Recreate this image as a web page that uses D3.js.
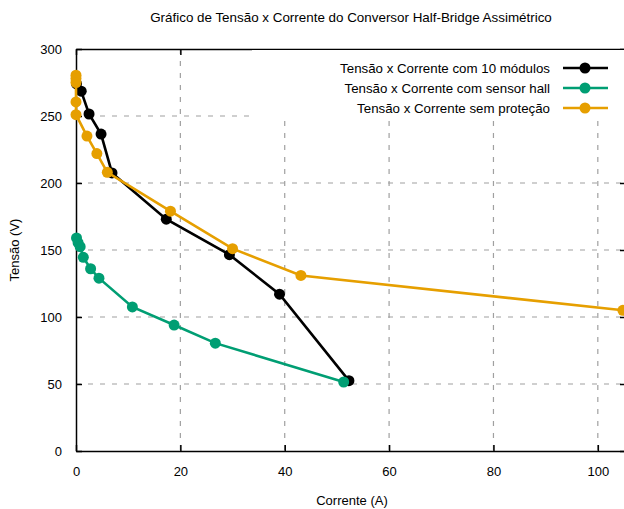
<!DOCTYPE html>
<html>
<head>
<meta charset="utf-8">
<script src="https://cdn.jsdelivr.net/npm/d3@7"></script>
<style>
  body { margin: 0; background: #fff; }
  text { font-family: "Liberation Sans", Arial, sans-serif; fill: #000; }
</style>
</head>
<body>
<div id="chart"></div>
<script>
// data
const modulosX = [0.1, 1.0, 2.5, 4.8, 6.9, 17.3, 29.4, 39.0, 52.3];
const modulosY = [274, 268.5, 251.5, 236.5, 207.5, 173, 146.5, 117, 52.5];
const hallX = [0.1, 0.4, 0.8, 1.4, 2.8, 4.4, 10.8, 18.8, 26.7, 51.3];
const hallY = [159, 155.5, 152.5, 144.5, 136, 129, 107.5, 94, 80.5, 51.5];
const semX = [0.0, 0.0, 0.0, 0.0, 0.0, 2.1, 4.0, 6.0, 18.1, 30.0, 43.1, 104.8];
const semY = [280.5, 278, 275, 260.5, 251, 235, 222, 208, 179, 151, 131, 105];

const xTicks = [0, 20, 40, 60, 80, 100];
const yTicks = [0, 50, 100, 150, 200, 250, 300];

const series = [
  { name: 'Tensão x Corrente com 10 módulos', color: '#000000', xs: modulosX, ys: modulosY },
  { name: 'Tensão x Corrente com sensor hall', color: '#009e73', xs: hallX, ys: hallY },
  { name: 'Tensão x Corrente sem proteção', color: '#e69f00', xs: semX, ys: semY }
];

const width = 624, height = 509;
const margin = { top: 49, right: -2, bottom: 58, left: 76 };
const plotW = width - margin.left - margin.right;
const plotH = height - margin.top - margin.bottom;

const svg = d3.select('#chart').append('svg')
  .attr('width', width)
  .attr('height', height);

const g = svg.append('g')
  .attr('transform', `translate(${margin.left},${margin.top})`);

const x = d3.scaleLinear().domain([0, 105.4]).range([0, plotW]);
const y = d3.scaleLinear().domain([0, 300]).range([plotH, 0]);

// grid
g.append('g').selectAll('line')
  .data(xTicks.filter(d => d > 0))
  .enter().append('line')
  .attr('x1', d => x(d)).attr('x2', d => x(d))
  .attr('y1', 0).attr('y2', plotH)
  .attr('stroke', '#a0a0a0').attr('stroke-width', 1.2)
  .attr('stroke-dasharray', '5,7');

g.append('g').selectAll('line')
  .data(yTicks.filter(d => d > 0 && d < 300))
  .enter().append('line')
  .attr('x1', 0).attr('x2', plotW)
  .attr('y1', d => y(d)).attr('y2', d => y(d))
  .attr('stroke', '#a0a0a0').attr('stroke-width', 1.2)
  .attr('stroke-dasharray', '5,7');

// opaque legend box hides the grid behind it
svg.append('rect')
  .attr('x', 252).attr('y', 50)
  .attr('width', 380).attr('height', 71)
  .attr('fill', '#fff');

// axes (ticks inward, mirrored on top/right)
const xAxis = g.append('g')
  .attr('transform', `translate(0,${plotH})`)
  .call(d3.axisBottom(x).tickValues(xTicks).tickSizeInner(-6).tickSizeOuter(0).tickPadding(16));
const xTop = g.append('g')
  .call(d3.axisTop(x).tickValues(xTicks).tickSizeInner(-6).tickSizeOuter(0).tickFormat(''));
const yAxis = g.append('g')
  .call(d3.axisLeft(y).tickValues(yTicks).tickSizeInner(-6).tickSizeOuter(0).tickPadding(14));
const yRight = g.append('g')
  .attr('transform', `translate(${plotW},0)`)
  .call(d3.axisRight(y).tickValues(yTicks).tickSizeInner(-6).tickSizeOuter(0).tickFormat(''));

[xAxis, xTop, yAxis, yRight].forEach(a => {
  a.select('.domain').attr('stroke', '#000').attr('stroke-width', 1.5);
  a.selectAll('.tick line').attr('stroke', '#000').attr('stroke-width', 1.5);
  a.selectAll('text').style('font-size', '13px').attr('fill', '#000');
});

// series lines and points
const line = d3.line().x(d => x(d[0])).y(d => y(d[1]));

series.forEach(s => {
  const pts = s.xs.map((v, i) => [v, s.ys[i]]);
  g.append('path')
    .datum(pts)
    .attr('d', line)
    .attr('fill', 'none')
    .attr('stroke', s.color)
    .attr('stroke-width', 2.6);
  g.append('g').selectAll('circle')
    .data(pts)
    .enter().append('circle')
    .attr('cx', d => x(d[0]))
    .attr('cy', d => y(d[1]))
    .attr('r', 5.5)
    .attr('fill', s.color);
});

// legend
const legend = svg.append('g');
series.forEach((s, i) => {
  const ly = 68 + i * 20;
  legend.append('text')
    .attr('x', 550).attr('y', ly + 4.5)
    .attr('text-anchor', 'end')
    .style('font-size', '13.3px')
    .text(s.name);
  legend.append('line')
    .attr('x1', 563).attr('x2', 608)
    .attr('y1', ly).attr('y2', ly)
    .attr('stroke', s.color).attr('stroke-width', 2.6);
  legend.append('circle')
    .attr('cx', 585).attr('cy', ly).attr('r', 5.5)
    .attr('fill', s.color);
});

// title and axis labels
svg.append('text')
  .attr('x', 351).attr('y', 22)
  .attr('text-anchor', 'middle')
  .style('font-size', '13.4px')
  .text('Gráfico de Tensão x Corrente do Conversor Half-Bridge Assimétrico');

svg.append('text')
  .attr('x', 352).attr('y', 505)
  .attr('text-anchor', 'middle')
  .style('font-size', '13px')
  .text('Corrente (A)');

svg.append('text')
  .attr('transform', 'rotate(-90)')
  .attr('x', -250).attr('y', 19)
  .attr('text-anchor', 'middle')
  .style('font-size', '13px')
  .text('Tensão (V)');
</script>
</body>
</html>
